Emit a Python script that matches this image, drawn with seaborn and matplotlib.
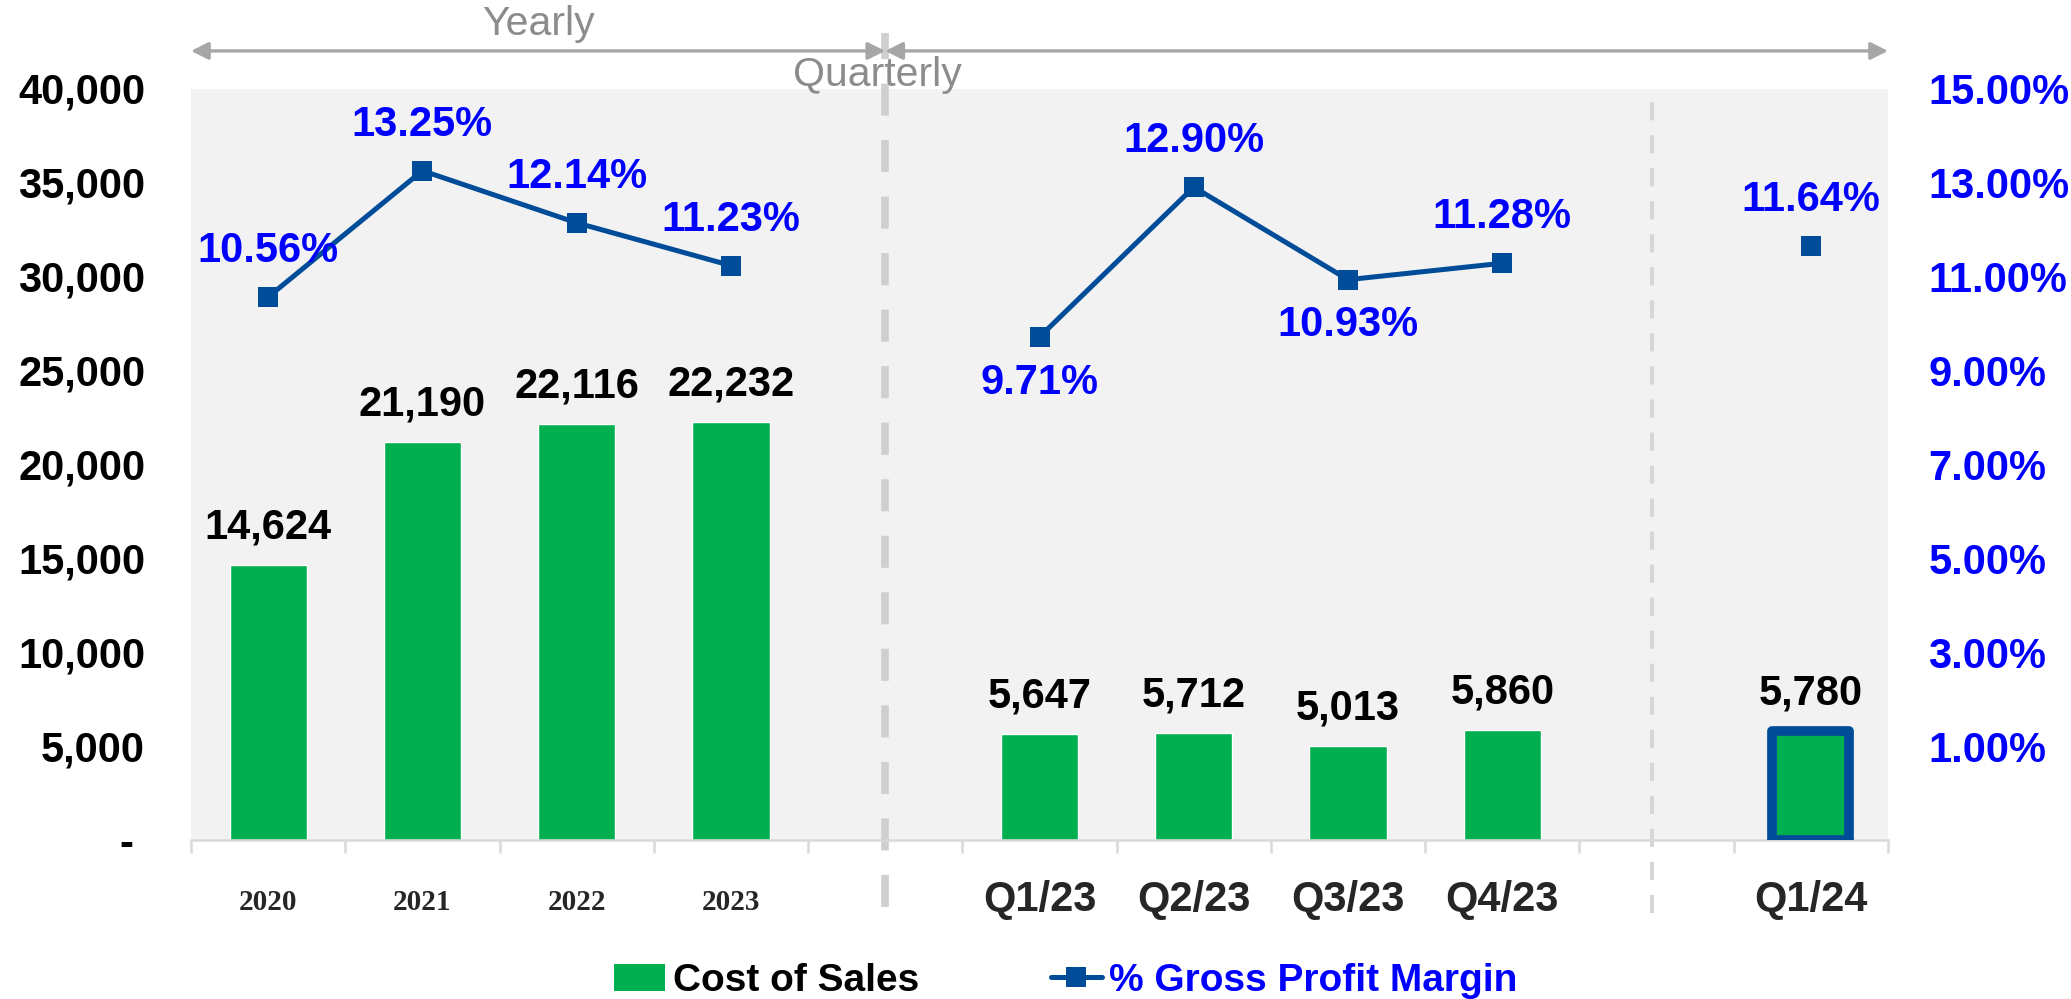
import numpy as np
import pandas as pd
import matplotlib
matplotlib.use("Agg")
import matplotlib.pyplot as plt
import seaborn as sns
from matplotlib.lines import Line2D
from matplotlib.patches import Patch
import matplotlib.transforms as mtransforms

# ---------------- data ----------------
years = ["2020", "2021", "2022", "2023"]
quarters = ["Q1/23", "Q2/23", "Q3/23", "Q4/23"]
latest = ["Q1/24"]

cost_years = [14624, 21190, 22116, 22232]
cost_quarters = [5647, 5712, 5013, 5860]
cost_latest = [5780]

margin_years = [10.56, 13.25, 12.14, 11.23]
margin_quarters = [9.71, 12.90, 10.93, 11.28]
margin_latest = [11.64]

left_ticks = [0, 5000, 10000, 15000, 20000, 25000, 30000, 35000, 40000]
right_ticks = [1, 3, 5, 7, 9, 11, 13, 15]

# label side for the margin labels (+1 above, -1 below)
margin_side = [1, 1, 1, 1, -1, 1, -1, 1, 1]

# ---------------- styling ----------------
GREEN = "#00B050"
LINE = "#004C99"
BLUE = "#0000FF"
GRAY_TXT = "#8C8C8C"
ARROW = "#A6A6A6"
FS = 30

sns.set_theme(style="white")
plt.rcParams["font.family"] = ["Liberation Sans", "DejaVu Sans"]

gap1, gap2 = " ", "  "
order = years + [gap1] + quarters + [gap2] + latest
periods = years + quarters + latest
df = pd.DataFrame({
    "period": periods,
    "cost": cost_years + cost_quarters + cost_latest,
    "margin": margin_years + margin_quarters + margin_latest,
})
df["pos"] = [order.index(p) for p in df["period"]]

W, H = 2071, 999
fig = plt.figure(figsize=(W / 100, H / 100), dpi=100)
ax = fig.add_axes([191 / W, 1 - 840 / H, 1697 / W, 751.5 / H])
ax.set_facecolor("#F2F2F2")

sns.barplot(data=df, x="period", y="cost", order=order, color=GREEN,
            saturation=1, width=0.5, ax=ax, zorder=2)

# highlight the latest bar
last_patch = ax.patches[len(periods) - 1]
last_patch.set_edgecolor(LINE)
last_patch.set_linewidth(7)
last_patch.set_joinstyle("round")
last_patch.set_zorder(4)

ax.set_xlim(-0.5, len(order) - 0.5)
ax.set_ylim(0, 40000)
ax.set_xlabel("")
ax.set_ylabel("")
ax.set_yticks(left_ticks)
ax.set_yticklabels(["-" + " " if v == 0 else f"{v:,}" for v in left_ticks],
                   fontsize=FS, fontweight="bold", color="black")
ax.tick_params(axis="y", length=0, pad=33)

for s in ["top", "right", "left"]:
    ax.spines[s].set_visible(False)
ax.spines["bottom"].set_color("#D9D9D9")
ax.spines["bottom"].set_linewidth(1.8)

ax.set_xticks(range(len(order)))
ax.set_xticklabels(order)
ax.set_xticks(np.arange(-0.5, len(order), 1.0), minor=True)
ax.tick_params(axis="x", which="major", length=0, pad=29)
ax.tick_params(axis="x", which="minor", length=9, width=1.8, color="#D9D9D9",
               bottom=True)
for lab in ax.get_xticklabels():
    t = lab.get_text()
    if t in years:
        lab.set_fontfamily("Liberation Serif")
        lab.set_fontsize(21)
        lab.set_fontweight("bold")
        lab.set_y(-0.012)
    else:
        lab.set_fontsize(FS)
        lab.set_fontweight("bold")

# bar value labels
for _, r in df.iterrows():
    ax.annotate(f"{r['cost']:,}", (r["pos"], r["cost"]), xytext=(0, 27),
                textcoords="offset points", ha="center", va="center",
                fontsize=FS, fontweight="bold", color="black", zorder=5)

# ---------------- margin line ----------------
ax2 = ax.twinx()
ax2.set_ylim(-1, 15)
segments = [years, quarters, latest]
for seg in segments:
    sub = df[df["period"].isin(seg)]
    sns.lineplot(x=sub["pos"].to_numpy(), y=sub["margin"].to_numpy(), ax=ax2,
                 color=LINE, linewidth=3.6, marker="s", markersize=15,
                 markeredgewidth=0, zorder=6)
ax2.set_yticks(right_ticks)
ax2.set_yticklabels([f"{v:.2f}%" for v in right_ticks], fontsize=FS,
                    fontweight="bold", color=BLUE)
ax2.tick_params(axis="y", length=0, pad=29)
ax2.set_ylabel("")
for s in ax2.spines.values():
    s.set_visible(False)
ax2.grid(False)
ax.grid(False)

for (_, r), side in zip(df.iterrows(), margin_side):
    ax2.annotate(f"{r['margin']:.2f}%", (r["pos"], r["margin"]),
                 xytext=(0, 33 * side), textcoords="offset points",
                 ha="center", va="center", fontsize=FS, fontweight="bold",
                 color=BLUE, zorder=7)

# ---------------- separators and top annotations ----------------
blend = mtransforms.blended_transform_factory(ax.transData, ax.transAxes)
g1 = order.index(gap1)
g2 = order.index(gap2)
ax.add_line(Line2D([g1, g1], [-0.089, 1.074], transform=blend, color="#CFCFCF",
                   linewidth=5.5, linestyle=(0, (4.2, 3.2)), clip_on=False,
                   zorder=1))
ax.add_line(Line2D([g2 - 0.03, g2 - 0.03], [-0.097, 1.0], transform=blend,
                   color="#D6D6D6", linewidth=2.9, linestyle=(0, (4.5, 3.7)),
                   clip_on=False, zorder=1))

arrow_kw = dict(arrowstyle="<|-|>", color=ARROW, lw=2.4, mutation_scale=26,
                shrinkA=0, shrinkB=0)
ax.annotate("", xy=(-0.5, 1.05), xytext=(g1, 1.05), xycoords=blend,
            textcoords=blend, arrowprops=arrow_kw, annotation_clip=False)
ax.annotate("", xy=(g1, 1.05), xytext=(len(order) - 0.5, 1.05), xycoords=blend,
            textcoords=blend, arrowprops=arrow_kw, annotation_clip=False)
ax.text((-0.5 + g1) / 2, 1.086, "Yearly", transform=blend, ha="center",
        va="center", fontsize=29.5, color=GRAY_TXT, zorder=8)
ax.text(g1 - 0.05, 1.018, "Quarterly", transform=blend, ha="center",
        va="center", fontsize=29.5, color=GRAY_TXT, zorder=8)

# ---------------- legend ----------------
handles = [
    Patch(facecolor=GREEN, edgecolor="none", label="Cost of Sales"),
    Line2D([], [], color=LINE, linewidth=3.6, marker="s", markersize=15,
           markeredgewidth=0, label="% Gross Profit Margin"),
]
leg = fig.legend(handles=handles, loc="center", bbox_to_anchor=(1066 / W, 0.018),
                 ncol=2, frameon=False, prop={"size": 28, "weight": "bold"},
                 handlelength=1.3, handletextpad=0.2, columnspacing=3.4)
leg.get_texts()[0].set_color("black")
leg.get_texts()[1].set_color(BLUE)

fig.savefig("out.png", dpi=100)
